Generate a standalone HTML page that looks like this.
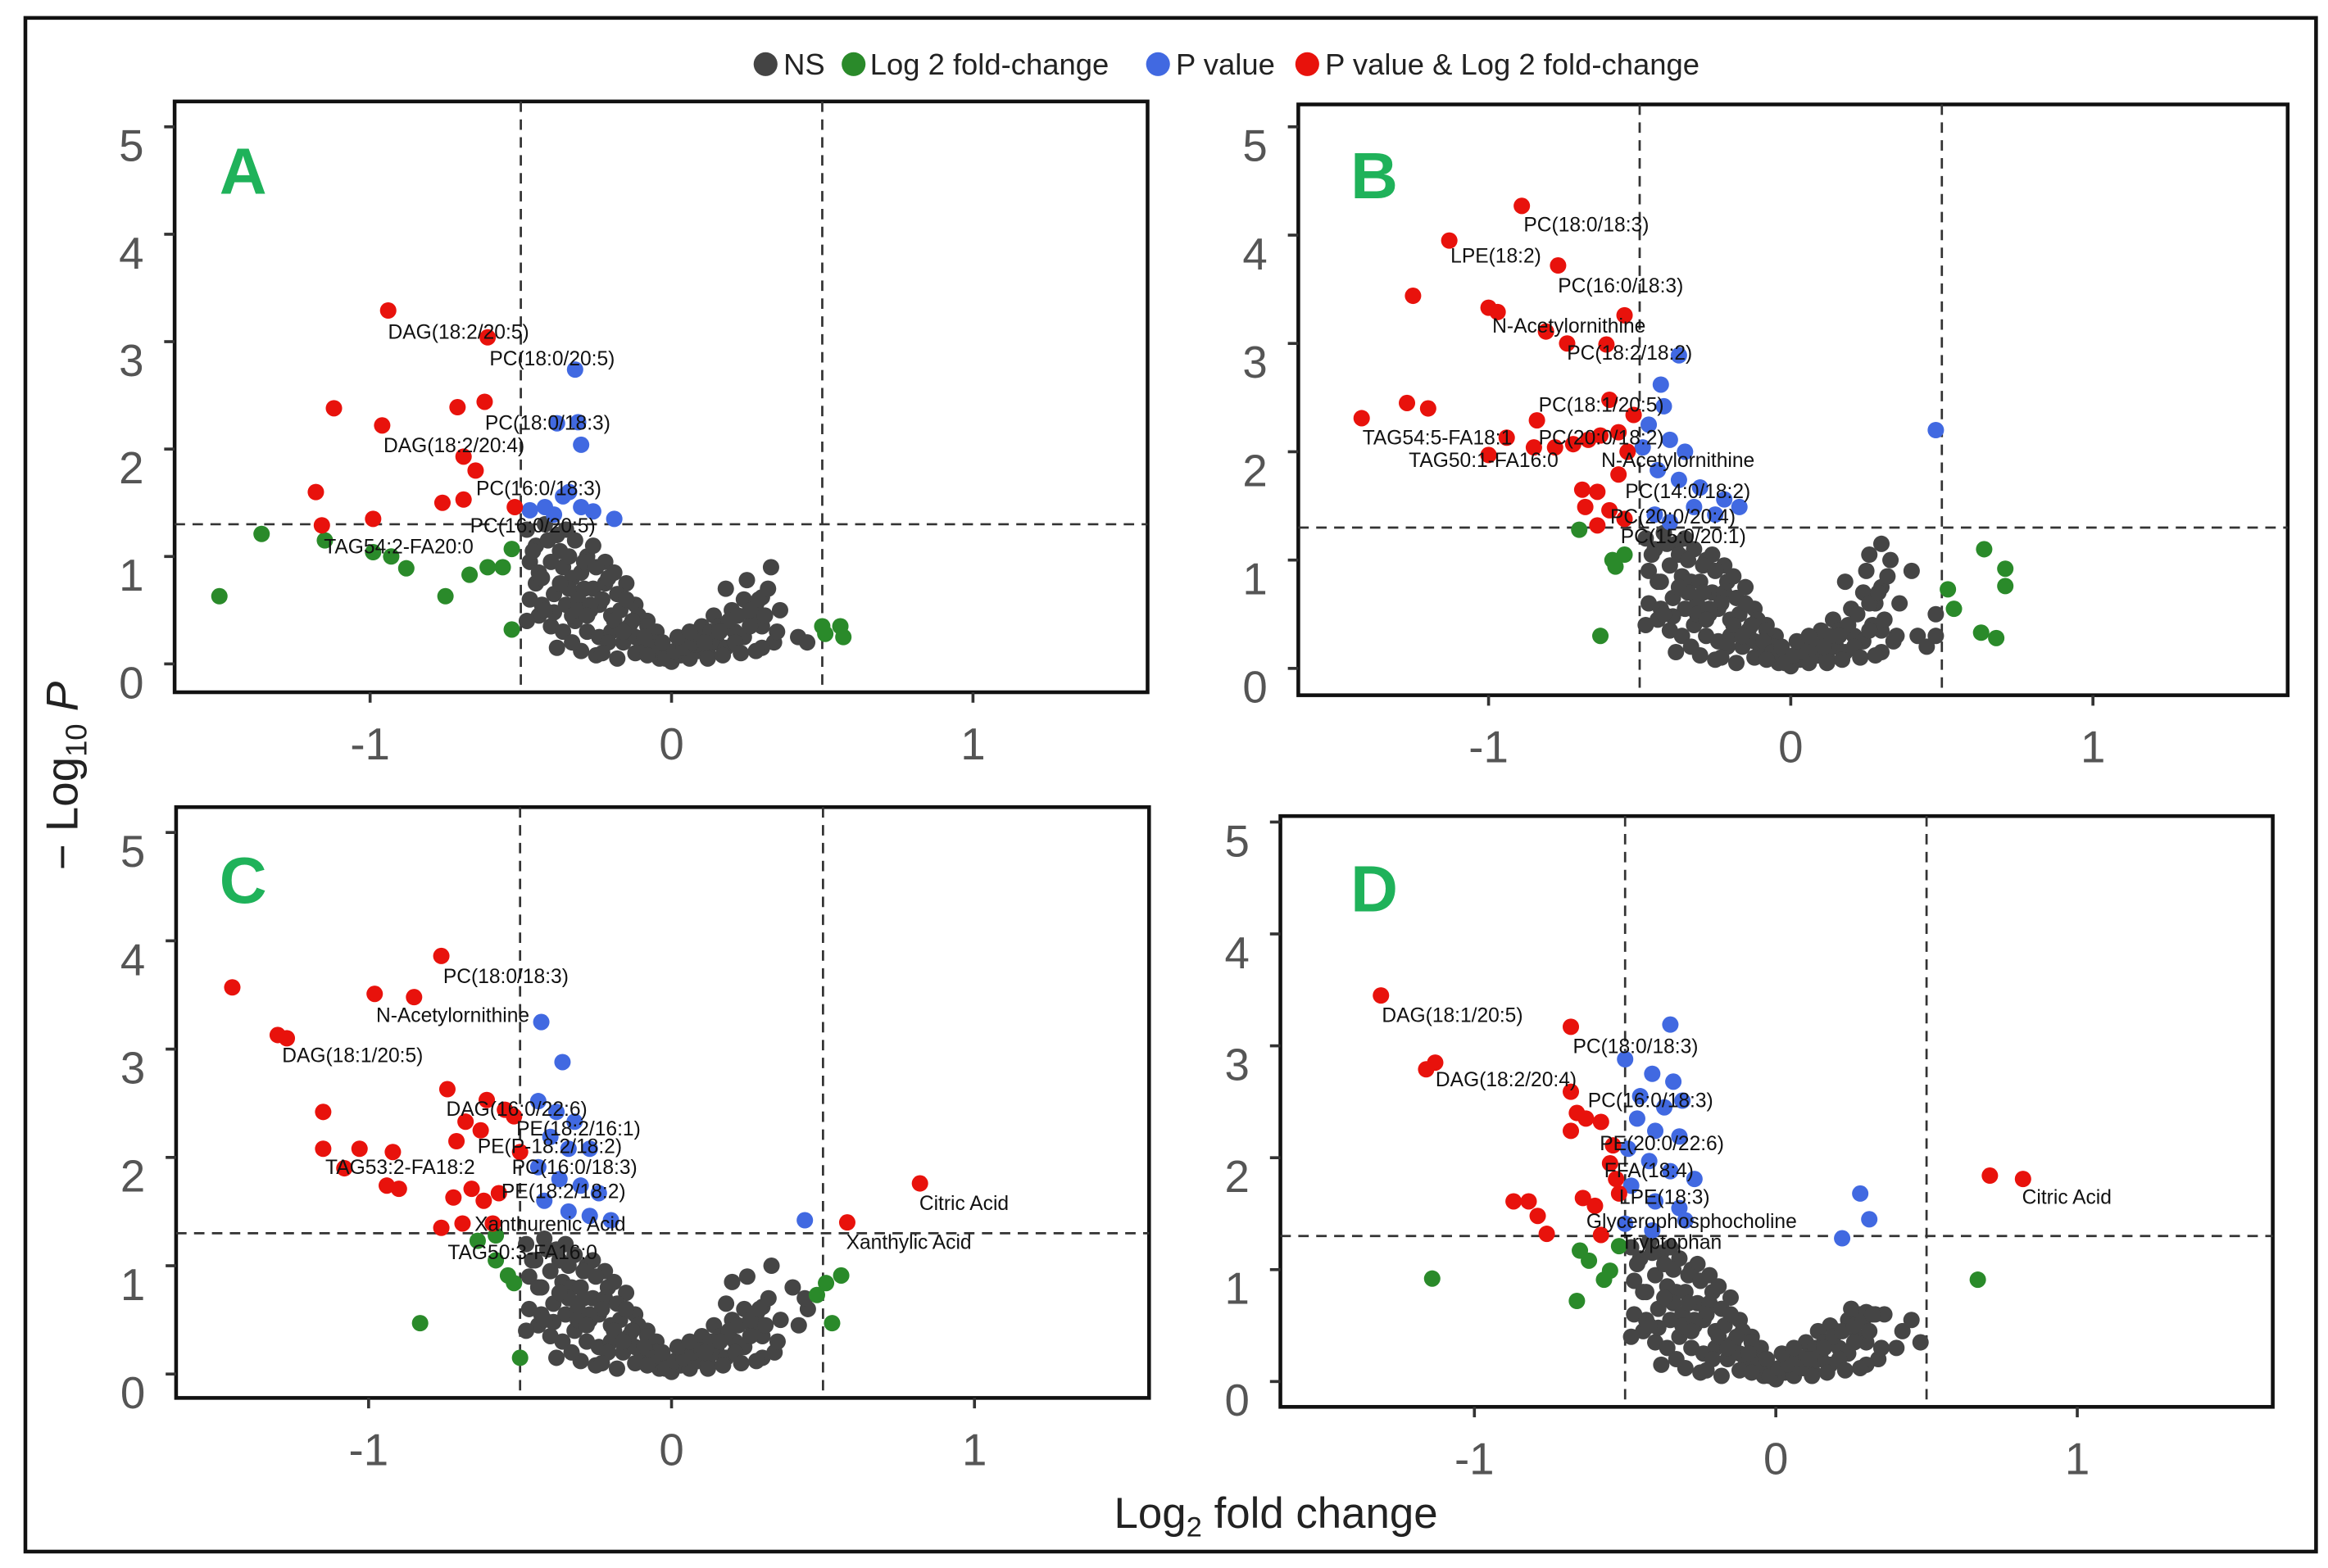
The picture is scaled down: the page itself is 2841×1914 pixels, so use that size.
<!DOCTYPE html>
<html><head><meta charset="utf-8"><style>
html,body{margin:0;padding:0;background:#fff;}
svg{display:block;}
text{font-family:"Liberation Sans",sans-serif;}
</style></head><body>
<svg id="fig" width="2841" height="1914" viewBox="0 0 1560 1051" xmlns="http://www.w3.org/2000/svg">
<rect x="17" y="12" width="1535" height="1028" fill="#fff" stroke="#111" stroke-width="2.5"/>
<g>
<circle cx="513" cy="43" r="8" fill="#444"/>
<text x="525" y="50" font-size="20" fill="#222">NS</text>
<circle cx="572" cy="43" r="8" fill="#2a8a2a"/>
<text x="583" y="50" font-size="20" fill="#222">Log 2 fold-change</text>
<circle cx="776" cy="43" r="8" fill="#4169e1"/>
<text x="788" y="50" font-size="20" fill="#222">P value</text>
<circle cx="876" cy="43" r="8" fill="#e8120c"/>
<text x="888" y="50" font-size="20" fill="#222">P value &amp; Log 2 fold-change</text>
</g>
<text transform="translate(52,520) rotate(-90)" text-anchor="middle" font-size="30" fill="#222">− Log<tspan font-size="20" dy="6">10</tspan><tspan dy="-6" font-style="italic"> P</tspan></text>
<text x="855" y="1024" text-anchor="middle" font-size="29" fill="#222">Log<tspan font-size="19" dy="6">2</tspan><tspan dy="-6"> fold change</tspan></text>
<g id="panels"></g>
</svg>
<script>
// Panel A data
const aRedX=[-0.94,-0.61,-1.12,-0.96,-0.71,-0.62,-0.69,-0.65,-1.18,-0.76,-0.69,-1.16,-0.99,-0.52];
const aRedY=[3.29,3.04,2.38,2.22,2.39,2.44,1.93,1.8,1.6,1.5,1.53,1.29,1.35,1.46];
const aBlueX=[-0.32,-0.38,-0.31,-0.30,-0.47,-0.42,-0.36,-0.34,-0.30,-0.26,-0.19,-0.39];
const aBlueY=[2.74,2.24,2.25,2.04,1.43,1.46,1.56,1.6,1.46,1.42,1.35,1.39];
const aGreenX=[-1.5,-1.36,-1.15,-0.99,-0.93,-0.88,-0.75,-0.67,-0.61,-0.56,-0.53,-0.53,0.5,0.51,0.56,0.57];
const aGreenY=[0.63,1.21,1.15,1.04,1.0,0.89,0.63,0.83,0.9,0.9,1.07,0.32,0.35,0.28,0.35,0.25];
const aGrayX=[-0.48,-0.45,-0.42,-0.38,-0.35,-0.32,-0.28,-0.47,-0.44,-0.4,-0.36,-0.33,-0.3,-0.26,-0.22,-0.47,-0.43,-0.39,-0.35,-0.31,-0.27,-0.24,-0.2,-0.17,-0.14,-0.4,-0.36,-0.32,-0.28,-0.24,-0.2,-0.16,-0.12,-0.1,-0.07,-0.04,-0.02,0.0,0.03,0.06,0.09,0.12,0.15,0.18,0.21,0.24,0.27,0.3,0.2,0.24,0.28,0.18,0.25,0.3,0.33,0.42,0.45,0.34,0.3,-0.3,-0.25,-0.18,-0.08,-0.05,0.05,0.1,0.14,-0.12,-0.22,-0.26,-0.15,0.36,-0.45,-0.33,-0.1,0.08,
 -0.46,-0.41,-0.37,-0.34,-0.29,-0.25,-0.21,-0.18,-0.15,-0.11,-0.08,-0.05,-0.02,0.01,0.04,0.07,0.1,0.13,0.16,0.19,0.22,0.26,0.29,0.32,-0.44,-0.39,-0.34,-0.29,-0.23,-0.19,-0.13,-0.09,-0.06,-0.03,0.02,0.06,0.11,0.16,0.21,0.26,-0.43,-0.37,-0.31,-0.27,-0.21,-0.16,-0.12,-0.08,0.12,0.17,0.23,0.28,0.31,0.35,-0.48,-0.42,-0.38,-0.33,-0.28,-0.23,-0.19];
const aGrayY=[1.25,1.1,1.3,1.2,1.25,1.15,1.0,0.95,0.85,0.95,0.9,0.8,0.85,0.7,0.75,0.6,0.55,0.65,0.55,0.6,0.5,0.55,0.45,0.5,0.35,0.35,0.3,0.4,0.3,0.25,0.3,0.2,0.25,0.15,0.1,0.05,0.12,0.02,0.08,0.05,0.12,0.1,0.2,0.15,0.3,0.25,0.4,0.35,0.5,0.6,0.55,0.7,0.78,0.62,0.9,0.25,0.2,0.2,0.15,0.12,0.08,0.05,0.4,0.3,0.25,0.35,0.45,0.55,0.95,1.1,0.75,0.5,0.75,0.45,0.2,0.18,
 1.05,1.15,1.05,1.0,0.95,0.9,0.8,0.65,0.6,0.45,0.35,0.2,0.05,0.12,0.15,0.2,0.22,0.3,0.35,0.4,0.45,0.5,0.6,0.7,0.45,0.48,0.7,0.7,0.6,0.4,0.4,0.25,0.15,0.2,0.25,0.3,0.2,0.3,0.2,0.35,0.8,0.75,0.5,0.55,0.2,0.3,0.1,0.08,0.05,0.08,0.1,0.12,0.45,0.3,0.4,0.5,0.15,0.2,0.45,0.1,0.85];
// Panel B data
const bRedX=[-0.89,-1.13,-0.77,-1.25,-1.0,-0.97,-0.55,-0.81,-0.74,-0.61,-1.42,-1.27,-1.2,-1.0,-0.94,-0.84,-0.85,-0.78,-0.72,-0.67,-0.63,-0.57,-0.54,-0.57,-0.69,-0.64,-0.6,-0.68,-0.64,-0.55,-0.6,-0.52];
const bRedY=[4.27,3.95,3.72,3.44,3.33,3.29,3.26,3.11,3.0,2.99,2.31,2.45,2.4,1.97,2.13,2.29,2.04,2.04,2.07,2.11,2.15,2.18,2.0,1.79,1.65,1.63,1.46,1.49,1.32,1.38,2.48,2.34];
const bBlueX=[-0.37,-0.43,-0.42,-0.47,-0.4,-0.35,-0.44,-0.37,-0.3,-0.22,-0.32,-0.25,-0.17,-0.45,-0.4,0.48,-0.49];
const bBlueY=[2.89,2.62,2.42,2.25,2.11,2.0,1.83,1.74,1.67,1.56,1.49,1.42,1.49,1.42,1.35,2.2,2.04];
const bGreenX=[-0.7,-0.59,-0.55,-0.58,-0.63,0.64,0.71,0.71,0.52,0.54,0.63,0.68];
const bGreenY=[1.28,1.0,1.05,0.94,0.3,1.1,0.92,0.76,0.73,0.55,0.33,0.28];
const bGrayX=[-0.48,-0.45,-0.42,-0.38,-0.35,-0.32,-0.28,-0.47,-0.44,-0.4,-0.36,-0.33,-0.3,-0.26,-0.22,-0.47,-0.43,-0.39,-0.35,-0.31,-0.27,-0.24,-0.2,-0.17,-0.14,-0.4,-0.36,-0.32,-0.28,-0.24,-0.2,-0.16,-0.12,-0.1,-0.07,-0.04,-0.02,0.0,0.03,0.06,0.09,0.12,0.15,0.18,0.21,0.24,0.27,0.3,0.2,0.24,0.28,0.18,0.25,0.3,0.33,0.42,0.45,0.34,0.3,-0.3,-0.25,-0.18,-0.08,-0.05,0.05,0.1,0.14,-0.12,-0.22,-0.26,-0.15,0.36,0.3,0.26,0.48,0.48,0.4,
 -0.46,-0.41,-0.37,-0.34,-0.29,-0.25,-0.21,-0.18,-0.15,-0.11,-0.08,-0.05,-0.02,0.01,0.04,0.07,0.1,0.13,0.16,0.19,0.22,0.26,0.29,0.32,-0.44,-0.39,-0.34,-0.29,-0.23,-0.19,-0.13,-0.09,-0.06,-0.03,0.02,0.06,0.11,0.16,0.21,0.26,-0.43,-0.37,-0.31,-0.27,-0.21,-0.16,-0.12,-0.08,0.12,0.17,0.23,0.28,0.31,0.35,-0.48,-0.42,-0.38,-0.33,-0.28,-0.23,-0.19];
const bGrayY=[1.2,1.1,1.25,1.15,1.2,1.1,1.0,0.9,0.8,0.95,0.85,0.8,0.8,0.7,0.7,0.6,0.55,0.65,0.55,0.6,0.5,0.55,0.45,0.5,0.35,0.35,0.3,0.4,0.3,0.25,0.3,0.2,0.25,0.15,0.1,0.05,0.12,0.02,0.08,0.05,0.12,0.1,0.2,0.15,0.3,0.25,0.4,0.35,0.55,0.7,0.6,0.8,0.9,0.75,1.0,0.3,0.2,0.25,0.15,0.12,0.08,0.05,0.4,0.3,0.25,0.35,0.45,0.55,0.95,1.05,0.75,0.6,1.15,1.05,0.5,0.3,0.9,
 1.05,1.15,1.05,1.0,0.95,0.9,0.8,0.65,0.6,0.45,0.35,0.2,0.05,0.12,0.15,0.2,0.22,0.3,0.35,0.4,0.5,0.6,0.7,0.85,0.45,0.48,0.7,0.7,0.6,0.4,0.4,0.25,0.15,0.2,0.25,0.3,0.2,0.3,0.2,0.35,0.8,0.75,0.5,0.55,0.2,0.3,0.1,0.08,0.05,0.08,0.1,0.12,0.45,0.3,0.4,0.5,0.15,0.2,0.45,0.1,0.85];
// Panel C data
const cRedX=[-0.76,-1.45,-0.98,-0.85,-1.3,-1.27,-1.15,-0.74,-0.61,-0.55,-0.68,-0.63,-1.15,-1.03,-0.92,-0.71,-0.94,-0.9,-1.08,-0.72,-0.66,-0.62,-0.57,-0.76,-0.69,-0.59,0.82,0.58,-0.52,-0.5];
const cRedY=[3.86,3.57,3.51,3.48,3.13,3.1,2.42,2.63,2.53,2.44,2.33,2.25,2.08,2.08,2.05,2.15,1.74,1.71,1.9,1.63,1.71,1.6,1.67,1.35,1.39,1.39,1.76,1.4,2.38,2.05];
const cBlueX=[-0.43,-0.36,-0.44,-0.38,-0.32,-0.4,-0.34,-0.27,-0.44,-0.37,-0.3,-0.24,-0.42,-0.34,-0.27,-0.2,0.44];
const cBlueY=[3.25,2.88,2.52,2.42,2.33,2.19,2.08,2.08,1.91,1.8,1.74,1.67,1.6,1.5,1.46,1.42,1.42];
const cGreenX=[-0.83,-0.5,-0.64,-0.58,-0.54,-0.52,-0.58,0.51,0.56,0.53,0.48];
const cGreenY=[0.47,0.15,1.23,1.28,0.91,0.84,1.05,0.84,0.91,0.47,0.73];
const cGrayX=[-0.48,-0.45,-0.42,-0.38,-0.35,-0.32,-0.28,-0.47,-0.44,-0.4,-0.36,-0.33,-0.3,-0.26,-0.22,-0.47,-0.43,-0.39,-0.35,-0.31,-0.27,-0.24,-0.2,-0.17,-0.14,-0.4,-0.36,-0.32,-0.28,-0.24,-0.2,-0.16,-0.12,-0.1,-0.07,-0.04,-0.02,0.0,0.03,0.06,0.09,0.12,0.15,0.18,0.21,0.24,0.27,0.3,0.2,0.24,0.28,0.18,0.25,0.3,0.33,0.42,0.45,0.34,0.3,-0.3,-0.25,-0.18,-0.08,-0.05,0.05,0.1,0.14,-0.12,-0.22,-0.26,-0.15,0.36,0.4,0.44,0.2,
 -0.46,-0.41,-0.37,-0.34,-0.29,-0.25,-0.21,-0.18,-0.15,-0.11,-0.08,-0.05,-0.02,0.01,0.04,0.07,0.1,0.13,0.16,0.19,0.22,0.26,0.29,0.32,-0.44,-0.39,-0.34,-0.29,-0.23,-0.19,-0.13,-0.09,-0.06,-0.03,0.02,0.06,0.11,0.16,0.21,0.26,-0.43,-0.37,-0.31,-0.27,-0.21,-0.16,-0.12,-0.08,0.12,0.17,0.23,0.28,0.31,0.35,-0.48,-0.42,-0.38,-0.33,-0.28,-0.23,-0.19];
const cGrayY=[1.2,1.05,1.25,1.15,1.2,1.1,1.0,0.9,0.8,0.95,0.85,0.8,0.8,0.7,0.7,0.6,0.55,0.65,0.55,0.6,0.5,0.55,0.45,0.5,0.35,0.35,0.3,0.4,0.3,0.25,0.3,0.2,0.25,0.15,0.1,0.05,0.12,0.02,0.08,0.05,0.12,0.1,0.2,0.15,0.3,0.25,0.4,0.35,0.5,0.6,0.55,0.65,0.9,0.62,1.0,0.45,0.6,0.2,0.15,0.12,0.08,0.05,0.4,0.3,0.25,0.35,0.45,0.55,0.95,1.05,0.75,0.5,0.8,0.7,0.85,
 1.05,1.15,1.05,1.0,0.95,0.9,0.8,0.65,0.6,0.45,0.35,0.2,0.05,0.12,0.15,0.2,0.22,0.3,0.35,0.4,0.45,0.5,0.6,0.7,0.45,0.48,0.7,0.7,0.6,0.4,0.4,0.25,0.15,0.2,0.25,0.3,0.2,0.3,0.2,0.35,0.8,0.75,0.5,0.55,0.2,0.3,0.1,0.08,0.05,0.08,0.1,0.12,0.45,0.3,0.4,0.5,0.15,0.2,0.45,0.1,0.85];
// Panel D data
const dRedX=[-1.31,-0.68,-1.13,-1.16,-0.68,-0.66,-0.63,-0.58,-0.68,-0.54,-0.55,-0.53,-0.87,-0.82,-0.79,-0.76,-0.64,-0.6,-0.52,-0.58,0.71,0.82];
const dRedY=[3.45,3.17,2.85,2.79,2.59,2.4,2.35,2.32,2.24,2.11,1.95,1.81,1.61,1.61,1.48,1.32,1.64,1.57,1.68,1.31,1.84,1.81];
const dBlueX=[-0.35,-0.5,-0.41,-0.34,-0.45,-0.37,-0.31,-0.46,-0.4,-0.32,-0.49,-0.42,-0.35,-0.27,-0.48,-0.4,-0.32,-0.5,-0.41,-0.3,0.28,0.31,0.22];
const dBlueY=[3.19,2.88,2.75,2.68,2.55,2.45,2.51,2.35,2.24,2.19,2.08,1.97,1.88,1.81,1.75,1.61,1.55,1.41,1.35,1.44,1.68,1.45,1.28];
const dGreenX=[-1.14,-0.66,-0.65,-0.62,-0.55,-0.57,-0.52,0.67];
const dGreenY=[0.92,0.72,1.17,1.08,0.99,0.91,1.21,0.91];
const dGrayX=[-0.48,-0.45,-0.42,-0.38,-0.35,-0.32,-0.28,-0.47,-0.44,-0.4,-0.36,-0.33,-0.3,-0.26,-0.22,-0.47,-0.43,-0.39,-0.35,-0.31,-0.27,-0.24,-0.2,-0.17,-0.14,-0.4,-0.36,-0.32,-0.28,-0.24,-0.2,-0.16,-0.12,-0.1,-0.07,-0.04,-0.02,0.0,0.03,0.06,0.09,0.12,0.15,0.18,0.21,0.24,0.27,0.3,0.2,0.24,0.28,0.18,0.25,0.3,0.33,0.42,0.45,0.34,0.3,-0.3,-0.25,-0.18,-0.08,-0.05,0.05,0.1,0.14,-0.12,-0.22,-0.26,-0.15,0.36,0.48,0.4,
 -0.46,-0.41,-0.37,-0.34,-0.29,-0.25,-0.21,-0.18,-0.15,-0.11,-0.08,-0.05,-0.02,0.01,0.04,0.07,0.1,0.13,0.16,0.19,0.22,0.26,0.29,0.32,-0.44,-0.39,-0.34,-0.29,-0.23,-0.19,-0.13,-0.09,-0.06,-0.03,0.02,0.06,0.11,0.16,0.21,0.26,-0.43,-0.37,-0.31,-0.27,-0.21,-0.16,-0.12,-0.08,0.12,0.17,0.23,0.28,0.31,0.35,-0.48,-0.42,-0.38,-0.33,-0.28,-0.23,-0.19];
const dGrayY=[1.2,1.1,1.25,1.15,1.2,1.1,1.0,0.9,0.8,0.95,0.85,0.8,0.8,0.7,0.7,0.6,0.55,0.65,0.55,0.6,0.5,0.55,0.45,0.5,0.35,0.35,0.3,0.4,0.3,0.25,0.3,0.2,0.25,0.15,0.1,0.05,0.12,0.02,0.08,0.05,0.12,0.1,0.2,0.15,0.3,0.25,0.4,0.35,0.45,0.55,0.6,0.5,0.65,0.62,0.6,0.45,0.55,0.2,0.15,0.12,0.08,0.05,0.4,0.3,0.25,0.35,0.45,0.55,0.95,1.05,0.75,0.6,0.35,0.3,
 1.05,1.15,1.05,1.0,0.95,0.9,0.8,0.65,0.6,0.45,0.35,0.2,0.05,0.12,0.15,0.2,0.22,0.3,0.35,0.4,0.45,0.5,0.55,0.6,0.45,0.48,0.7,0.7,0.6,0.4,0.4,0.25,0.15,0.2,0.25,0.3,0.2,0.3,0.2,0.35,0.8,0.75,0.5,0.55,0.2,0.3,0.1,0.08,0.05,0.08,0.1,0.12,0.45,0.3,0.4,0.5,0.15,0.2,0.45,0.1,0.85];
const xTicks=[-1,0,1];
const yTicks=[0,1,2,3,4,5];

const NS="http://www.w3.org/2000/svg";
const root=document.getElementById('panels');
function mk(tag,attrs,parent){const e=document.createElementNS(NS,tag);for(const k in attrs)e.setAttribute(k,attrs[k]);parent.appendChild(e);return e;}

const panels=[
 {id:'a',letter:'A',box:[117,68,769,464],x0:450,xs:202,y0:445,ys:72,lx:147,ly:115,
  red:[aRedX,aRedY],blue:[aBlueX,aBlueY],green:[aGreenX,aGreenY],gray:[aGrayX,aGrayY],
  labels:[["DAG(18:2/20:5)",260,222],["PC(18:0/20:5)",328,240],["PC(18:0/18:3)",325,283],["DAG(18:2/20:4)",257,298],["PC(16:0/18:3)",319,327],["PC(16:0/20:5)",315,352],["TAG54:2-FA20:0",217,366]]},
 {id:'b',letter:'B',box:[870,70,1533,466],x0:1200,xs:202.5,y0:448,ys:72.6,lx:905,ly:118,
  red:[bRedX,bRedY],blue:[bBlueX,bBlueY],green:[bGreenX,bGreenY],gray:[bGrayX,bGrayY],
  labels:[["PC(18:0/18:3)",1021,150],["LPE(18:2)",972,171],["PC(16:0/18:3)",1044,191],["N-Acetylornithine",1000,218],["PC(18:2/18:2)",1050,236],["PC(18:1/20:5)",1031,271],["TAG54:5-FA18:1",913,293],["PC(20:0/18:2)",1031,293],["TAG50:1-FA16:0",944,308],["N-Acetylornithine",1073,308],["PC(14:0/18:2)",1089,329],["PC(20:0/20:4)",1079,346],["PC(15:0/20:1)",1086,359]]},
 {id:'c',letter:'C',box:[118,541,770,937],x0:450,xs:203,y0:921,ys:72.6,lx:147,ly:590,
  red:[cRedX,cRedY],blue:[cBlueX,cBlueY],green:[cGreenX,cGreenY],gray:[cGrayX,cGrayY],
  labels:[["PC(18:0/18:3)",297,654],["N-Acetylornithine",252,680],["DAG(18:1/20:5)",189,707],["DAG(16:0/22:6)",299,743],["PE(18:2/16:1)",346,756],["PE(P-18:2/18:2)",320,768],["TAG53:2-FA18:2",218,782],["PC(16:0/18:3)",343,782],["PE(18:2/18:2)",336,798],["Xanthurenic Acid",318,820],["TAG50:3-FA16:0",300,839],["Citric Acid",616,806],["Xanthylic Acid",567,832]]},
 {id:'d',letter:'D',box:[858,547,1523,943],x0:1190,xs:202,y0:926,ys:75,lx:905,ly:596,
  red:[dRedX,dRedY],blue:[dBlueX,dBlueY],green:[dGreenX,dGreenY],gray:[dGrayX,dGrayY],
  labels:[["DAG(18:1/20:5)",926,680],["PC(18:0/18:3)",1054,701],["DAG(18:2/20:4)",962,723],["PC(16:0/18:3)",1064,737],["PE(20:0/22:6)",1072,766],["FFA(18:4)",1075,784],["LPE(18:3)",1085,802],["Glycerophosphocholine",1063,818],["Tryptophan",1086,832],["Citric Acid",1355,802]]}
];
const colors={gray:'#454545',green:'#2a8a2a',blue:'#4169e1',red:'#e8120c'};

panels.forEach(p=>{
  const g=mk('g',{},root);
  
  
  const X=v=>p.x0+v*p.xs, Y=v=>p.y0-v*p.ys;
  const [l,t,r,b]=p.box;
  const bx=mk('rect',{x:l,y:t,width:r-l,height:b-t,fill:'none',stroke:'#111','stroke-width':2.5},g);
  
  
  yTicks.forEach(v=>{
    const tk=mk('line',{x1:l-7,x2:l,y1:Y(v),y2:Y(v),stroke:'#333','stroke-width':2},g);
    
    
    const tx=mk('text',{x:l-29,y:Y(v)+23,'text-anchor':'middle','font-size':30,fill:'#555'},g);
    tx.textContent=v;
    
    
  });
  xTicks.forEach(v=>{
    const tk=mk('line',{x1:X(v),x2:X(v),y1:b,y2:b+7,stroke:'#333','stroke-width':2},g);
    
    
    const tx=mk('text',{x:X(v),y:b+45,'text-anchor':'middle','font-size':30,fill:'#555'},g);
    tx.textContent=(v<0?'-':'')+Math.abs(v);
    
    
  });
  [-0.5,0.5].forEach(v=>{
    const ln=mk('line',{x1:X(v),x2:X(v),y1:t,y2:b,stroke:'#333','stroke-width':1.5,'stroke-dasharray':'7,5'},g);
    
    
  });
  const hl=mk('line',{x1:l,x2:r,y1:Y(1.3),y2:Y(1.3),stroke:'#333','stroke-width':1.5,'stroke-dasharray':'7,5'},g);
  
  
  ['gray','green','blue','red'].forEach(c=>{
    const [xs,ys]=p[c];
    xs.forEach((xv,i)=>{
      const pt=mk('circle',{cx:X(xv),cy:Y(ys[i]),r:5.5,fill:colors[c]},g);
      
      
    });
  });
  p.labels.forEach(lb=>{
    const tx=mk('text',{x:lb[1],y:lb[2]+5,'font-size':13.5,fill:'#111'},g);
    tx.textContent=lb[0];
    
    
  });
  const lt=mk('text',{x:p.lx,y:p.ly+15,'font-size':44,'font-weight':'bold',fill:'#1fb25a'},g);
  lt.textContent=p.letter;
  
  
});
</script>
</body></html>
